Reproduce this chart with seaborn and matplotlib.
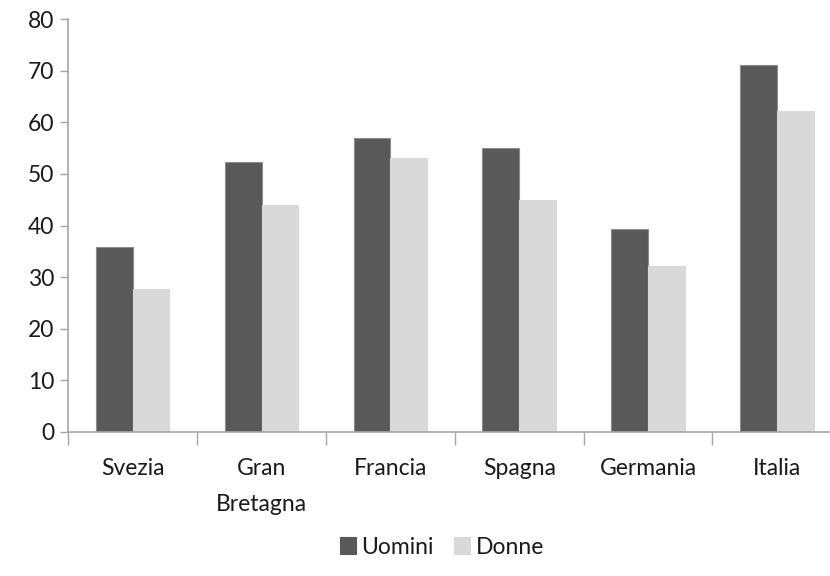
import matplotlib
matplotlib.use("Agg")
import matplotlib.pyplot as plt
import seaborn as sns
import pandas as pd

paesi = ["Svezia", "Gran\nBretagna", "Francia", "Spagna", "Germania", "Italia"]
uomini = [35.9, 52.3, 56.9, 55.0, 39.4, 71.1]
donne = [27.6, 44.0, 53.1, 44.9, 32.2, 62.3]
serie = ["Uomini", "Donne"]
colori = {"Uomini": "#595959", "Donne": "#d9d9d9"}

df = pd.DataFrame({
    "paese": paesi * 2,
    "valore": uomini + donne,
    "sesso": [serie[0]] * len(paesi) + [serie[1]] * len(paesi),
})

sns.set_theme(style="white")
plt.rcParams["font.family"] = ["Lato", "DejaVu Sans"]
fs = 16.5

fig = plt.figure(figsize=(8.3, 5.76), dpi=100)
ax = fig.add_axes([68.3 / 830, 1 - 431.7 / 576, 773 / 830, 412.4 / 576])

sns.barplot(data=df, x="paese", y="valore", hue="sesso", order=paesi,
            hue_order=serie, palette=colori, width=0.57, gap=0,
            saturation=1, ax=ax, linewidth=0.8, edgecolor="#8c8c8c")
for bar in ax.patches:
    if abs(bar.get_height()) > 0 and bar.get_facecolor()[0] > 0.7:
        bar.set_edgecolor("#d9d9d9")

ax.set_xlim(-0.5, len(paesi) - 0.5)
ax.set_ylim(0, 80)
ax.set_yticks(range(0, 81, 10))
ax.set_xlabel("")
ax.set_ylabel("")

axis_col = "#a6a6a6"
for s in ["top", "right"]:
    ax.spines[s].set_visible(False)
for s in ["left", "bottom"]:
    ax.spines[s].set_color(axis_col)
    ax.spines[s].set_linewidth(1.2)

ax.tick_params(axis="y", which="major", direction="out", length=6, width=1,
               color=axis_col, labelsize=fs, labelcolor="#1a1a1a", pad=4, left=True)
ax.tick_params(axis="x", which="major", length=0, labelsize=fs,
               labelcolor="#1a1a1a", pad=19)
ax.set_xticks([i - 0.5 for i in range(len(paesi) + 1)], minor=True)
ax.tick_params(axis="x", which="minor", direction="out", length=9, width=1,
               color=axis_col, bottom=True)
for lab in ax.get_xticklabels():
    lab.set_linespacing(1.9)
    lab.set_verticalalignment("top")

handles, labels = ax.get_legend_handles_labels()
ax.get_legend().remove()
leg = fig.legend(handles, labels, loc="center", bbox_to_anchor=(442 / 830, 1 - 547 / 576),
                 ncol=2, frameon=False, fontsize=fs, handlelength=0.7,
                 handleheight=0.7, handletextpad=0.22, columnspacing=0.9)
for h, name in zip(leg.legend_handles, serie):
    h.set_edgecolor(colori[name])
for t in leg.get_texts():
    t.set_color("#1a1a1a")

fig.savefig("out.png", dpi=100)
